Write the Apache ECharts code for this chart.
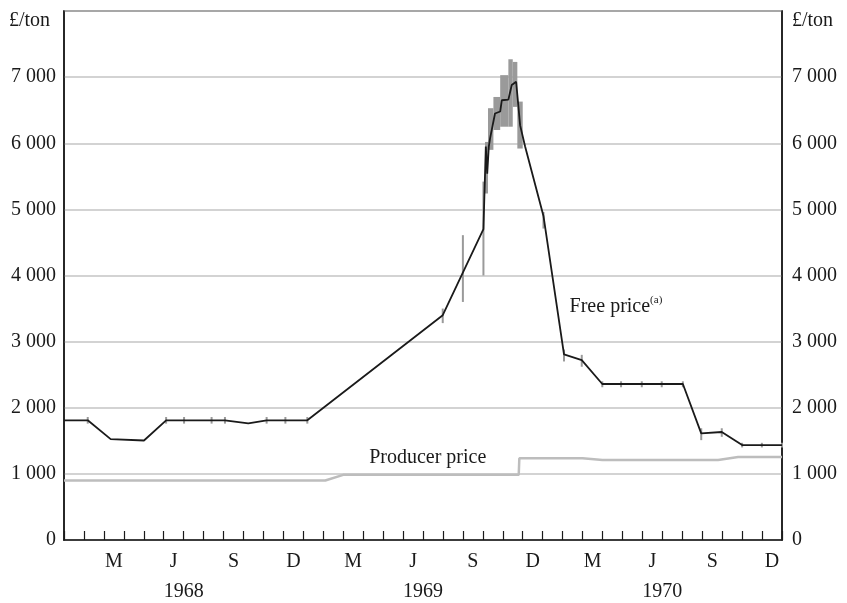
<!DOCTYPE html>
<html>
<head>
<meta charset="utf-8">
<script src="https://cdn.jsdelivr.net/npm/echarts@6/dist/echarts.min.js"></script>
<style>
  html, body { margin: 0; padding: 0; background: #fff; }
  #chart { width: 847px; height: 603px; }
</style>
</head>
<body>
<div id="chart"></div>
<script>
// month positions count from the start of Jan 1968 (0) to end of Dec 1970 (36)
const monthLetters = ["J", "F", "M", "A", "M", "J", "J", "A", "S", "O", "N", "D"];
const years = ["1968", "1969", "1970"];

// free price line
const freeMonths = [0, 1.19, 2.34, 4.01, 5.12, 6.02, 7.4, 8.07, 9.24, 10.16, 11.1, 12.2,
  18.99, 21.03, 21.15, 21.22, 21.3, 21.36, 21.61, 21.87, 21.95, 22.28, 22.45, 22.67,
  22.73, 22.87, 23.12, 24.04, 25.07, 25.96, 26.99, 27.93, 28.97, 29.97, 31.03, 31.95,
  32.98, 34.0, 34.99, 36];
const freeValues = [1810, 1810, 1525, 1505, 1810, 1810, 1810, 1810, 1765, 1810, 1810, 1810,
  3400, 4700, 5950, 5540, 5950, 6070, 6450, 6480, 6650, 6660, 6880, 6930,
  6900, 6270, 5950, 4900, 2807, 2721, 2359, 2359, 2359, 2359, 2359, 1613,
  1633, 1436, 1436, 1436];

// free price ranges (grey bars): start month, end month, low, high
const rangeStart = [1.19, 5.12, 6.02, 7.4, 8.07, 10.16, 11.1, 12.2,
  18.99, 20.0, 21.03, 21.11, 21.26, 21.53, 21.87, 22.28, 22.5, 22.73, 24.04,
  25.07, 25.96, 26.99, 27.93, 28.97, 29.97, 31.03, 31.95, 32.98, 34.0, 34.99, 36];
const rangeEnd = [1.19, 5.12, 6.02, 7.4, 8.07, 10.16, 11.1, 12.2,
  18.99, 20.0, 21.03, 21.26, 21.53, 21.87, 22.28, 22.5, 22.73, 23.0, 24.04,
  25.07, 25.96, 26.99, 27.93, 28.97, 29.97, 31.03, 31.95, 32.98, 34.0, 34.99, 36];
const rangeLow = [1760, 1760, 1760, 1760, 1760, 1760, 1760, 1760,
  3280, 3600, 4000, 5240, 5900, 6200, 6250, 6250, 6550, 5920, 4710,
  2700, 2620, 2310, 2310, 2310, 2310, 2310, 1510, 1560, 1400, 1400, 1400];
const rangeHigh = [1860, 1860, 1860, 1860, 1860, 1860, 1860, 1860,
  3500, 4610, 5420, 6020, 6530, 6700, 7030, 7270, 7230, 6630, 4960,
  2880, 2800, 2400, 2400, 2400, 2400, 2400, 1690, 1690, 1470, 1470, 1470];

// producer price
const producerMonths = [0, 13.1, 14.0, 22.8, 22.83, 26.0, 27.0, 32.8, 33.8, 36];
const producerValues = [900, 900, 985, 985, 1235, 1235, 1210, 1210, 1255, 1255];

const font = '"Liberation Serif", "DejaVu Serif", serif';
const fs = 20;

const xLabels = [];
years.forEach(function () { monthLetters.forEach(function (m) { xLabels.push(m); }); });

const freeData = freeMonths.map(function (m, i) { return [m, freeValues[i]]; });
const producerData = producerMonths.map(function (m, i) { return [m, producerValues[i]]; });
const rangeData = rangeStart.map(function (s, i) {
  return [s, rangeEnd[i], rangeLow[i], rangeHigh[i]];
});

function fmtThousand(v) {
  if (v === 8000) return "";
  return String(v).replace(/\B(?=(\d{3})+(?!\d))/g, " ");
}

const chart = echarts.init(document.getElementById("chart"));

const option = {
  animation: false,
  textStyle: { fontFamily: font },
  grid: {
    left: 64, right: 65, top: 11, bottom: 63,
    show: true, borderColor: "#1a1a1a", borderWidth: 1.5
  },
  xAxis: [
    {
      // month letters, centred in each month
      type: "category",
      data: xLabels,
      boundaryGap: true,
      axisLine: { lineStyle: { color: "#1a1a1a", width: 1.5 } },
      axisTick: { show: false },
      axisLabel: {
        interval: function (index) { return index % 3 === 2; },
        color: "#1a1a1a", fontFamily: font, fontSize: fs, margin: 12
      },
      splitLine: { show: false }
    },
    {
      type: "category",
      data: years,
      position: "bottom",
      offset: 30,
      axisLine: { show: false },
      axisTick: { show: false },
      axisLabel: { color: "#1a1a1a", fontFamily: font, fontSize: fs, margin: 12 }
    },
    {
      // data axis, month boundaries as ticks
      type: "value", min: 0, max: 36, interval: 1,
      position: "bottom",
      axisLine: { show: false },
      axisTick: { show: true, inside: true, length: 9, lineStyle: { color: "#1a1a1a", width: 1.2 } },
      axisLabel: { show: false },
      splitLine: { show: false }
    }
  ],
  yAxis: [
    {
      type: "value", min: 0, max: 8000, interval: 1000,
      axisLine: { show: true, lineStyle: { color: "#1a1a1a", width: 1.5 } },
      axisTick: { show: false },
      axisLabel: { formatter: fmtThousand, color: "#1a1a1a", fontFamily: font, fontSize: fs, margin: 8 },
      splitLine: { show: true, lineStyle: { color: "#c4c4c4", width: 1.5 } }
    },
    {
      type: "value", min: 0, max: 8000, interval: 1000, position: "right",
      axisLine: { show: true, lineStyle: { color: "#1a1a1a", width: 1.5 } },
      axisTick: { show: false },
      axisLabel: { formatter: fmtThousand, color: "#1a1a1a", fontFamily: font, fontSize: fs, margin: 10 },
      splitLine: { show: false }
    }
  ],
  series: [
    {
      name: "Producer price",
      type: "line",
      xAxisIndex: 2,
      yAxisIndex: 0,
      data: producerData,
      symbol: "none",
      lineStyle: { color: "#bdbdbd", width: 2.5 },
      z: 3
    },
    {
      name: "Free price range",
      type: "custom",
      xAxisIndex: 2,
      yAxisIndex: 0,
      data: rangeData,
      encode: { x: [0, 1], y: [2, 3] },
      renderItem: function (params, api) {
        const top = api.coord([api.value(0), api.value(3)]);
        const bot = api.coord([api.value(1), api.value(2)]);
        const w = Math.max(bot[0] - top[0], 2);
        const cx = (top[0] + bot[0]) / 2;
        return {
          type: "rect",
          shape: { x: cx - w / 2, y: top[1], width: w, height: bot[1] - top[1] },
          style: { fill: "#9a9a9a" }
        };
      },
      z: 4
    },
    {
      name: "Free price",
      type: "line",
      xAxisIndex: 2,
      yAxisIndex: 0,
      data: freeData,
      symbol: "none",
      lineStyle: { color: "#1a1a1a", width: 1.8 },
      z: 5
    }
  ]
};

chart.setOption(option);

// text labels placed at data positions
const freeLabelPos = chart.convertToPixel({ seriesIndex: 2 }, [25.35, 3520]);
const prodLabelPos = chart.convertToPixel({ seriesIndex: 2 }, [15.3, 1240]);

chart.setOption({
  graphic: [
    {
      type: "text", left: 9, top: 11,
      style: { text: "£/ton", font: fs + "px " + font, fill: "#1a1a1a" }
    },
    {
      type: "text", left: 792, top: 11,
      style: { text: "£/ton", font: fs + "px " + font, fill: "#1a1a1a" }
    },
    {
      type: "text",
      x: freeLabelPos[0], y: freeLabelPos[1],
      style: {
        text: "Free price{sup|(a)}",
        font: fs + "px " + font,
        fill: "#1a1a1a",
        verticalAlign: "middle",
        rich: {
          sup: { fontSize: 11, fontFamily: font, verticalAlign: "top", lineHeight: 26, fill: "#1a1a1a" }
        }
      }
    },
    {
      type: "text",
      x: prodLabelPos[0], y: prodLabelPos[1],
      style: {
        text: "Producer price",
        font: fs + "px " + font,
        fill: "#1a1a1a",
        verticalAlign: "middle"
      }
    }
  ]
});
</script>
</body>
</html>
